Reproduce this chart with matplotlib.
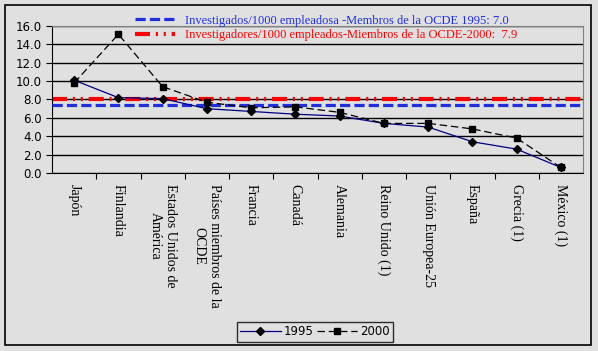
import matplotlib
matplotlib.use('Agg')
import matplotlib.pyplot as plt
from matplotlib.patches import Rectangle

countries = ['Japón', 'Finlandia', 'Estados Unidos de\nAmérica',
             'Países miembros de la\nOCDE', 'Francia', 'Canadá', 'Alemania',
             'Reino Unido (1)', 'Unión Europea-25', 'España', 'Grecia (1)',
             'México (1)']
v1995 = [10.1, 8.2, 8.1, 7.0, 6.7, 6.4, 6.2, 5.4, 5.0, 3.4, 2.6, 0.6]
v2000 = [9.8, 15.1, 9.4, 7.7, 7.1, 7.2, 6.6, 5.4, 5.4, 4.8, 3.8, 0.6]
ocde_1995 = 7.4
ocde_2000 = 8.1
lab_1995 = 'Investigados/1000 empleadosa -Membros de la OCDE 1995: 7.0'
lab_2000 = 'Investigadores/1000 empleados-Miembros de la OCDE-2000:  7.9'

bg = '#e0e0e0'
serif = 'Liberation Serif'

fig = plt.figure(figsize=(5.98, 3.51), dpi=100, facecolor=bg)
ax = fig.add_axes([52/598, 1-173/351, (583-52)/598, (173-26)/351], facecolor=bg)

x = list(range(len(countries)))

l1 = ax.axhline(ocde_1995, color='#1f2fe0', lw=2.3, ls=(0, (3.2, 1.3)), label=lab_1995, zorder=3)
l2 = ax.axhline(ocde_2000, color='#ff0000', lw=3, ls=(0, (3.6, 1.4, 0.5, 1.4, 0.5, 1.4)), label=lab_2000, zorder=2)

p1, = ax.plot(x, v1995, color='#000080', lw=0.9, marker='D', ms=4, mfc='black', mec='black', label='1995', zorder=4)
p2, = ax.plot(x, v2000, color='black', lw=0.9, ls=(0, (6, 3)), marker='s', ms=5, mfc='black', mec='black', label='2000', zorder=4)

ax.set_xlim(-0.5, len(countries)-0.5)
ax.set_ylim(0, 16)
ax.set_yticks(range(0, 17, 2))
ax.set_yticklabels(['%.1f' % v for v in range(0, 17, 2)], fontsize=8.5)
ax.yaxis.grid(True, color='black', lw=1)
ax.set_axisbelow(True)

# ticks between categories, labels at category centres
ax.set_xticks([i+0.5 for i in x[:-1]])
ax.set_xticklabels([])
ax.set_xticks(x, minor=True)
ax.set_xticklabels(countries, minor=True, rotation=270, fontsize=10,
                   family=serif, va='top', ha='center', linespacing=1.2)
for lbl in ax.get_xticklabels(minor=True):
    lbl.set_multialignment('center')
ax.tick_params(axis='x', which='minor', length=0, pad=8)
ax.tick_params(axis='x', which='major', length=4, direction='out')
ax.tick_params(axis='y', length=4, direction='out')

for s in ['top', 'right']:
    ax.spines[s].set_color('#808080')
for s in ['left', 'bottom']:
    ax.spines[s].set_color('black')

leg1 = fig.legend(handles=[l1, l2], loc='upper left', bbox_to_anchor=(126/598, 1-6/351),
                  frameon=False, handlelength=3.2, labelspacing=0.2,
                  prop={'family': serif, 'size': 9}, labelcolor='linecolor', borderpad=0.2)

leg2 = fig.legend(handles=[p1, p2], loc='lower center', bbox_to_anchor=(315/598, 9/351),
                  ncol=2, frameon=True, fontsize=8.5, handlelength=3.4, columnspacing=0.3,
                  handletextpad=0.25, borderpad=0.3, borderaxespad=0, fancybox=False, edgecolor='black')
leg2.get_frame().set_facecolor(bg)
leg2.get_frame().set_linewidth(1)

fig.patches.append(Rectangle((5/598, 6/351), 586/598, 340/351, transform=fig.transFigure,
                             fill=False, edgecolor='black', lw=1.2))

fig.savefig('out.png', dpi=100, facecolor=bg)
